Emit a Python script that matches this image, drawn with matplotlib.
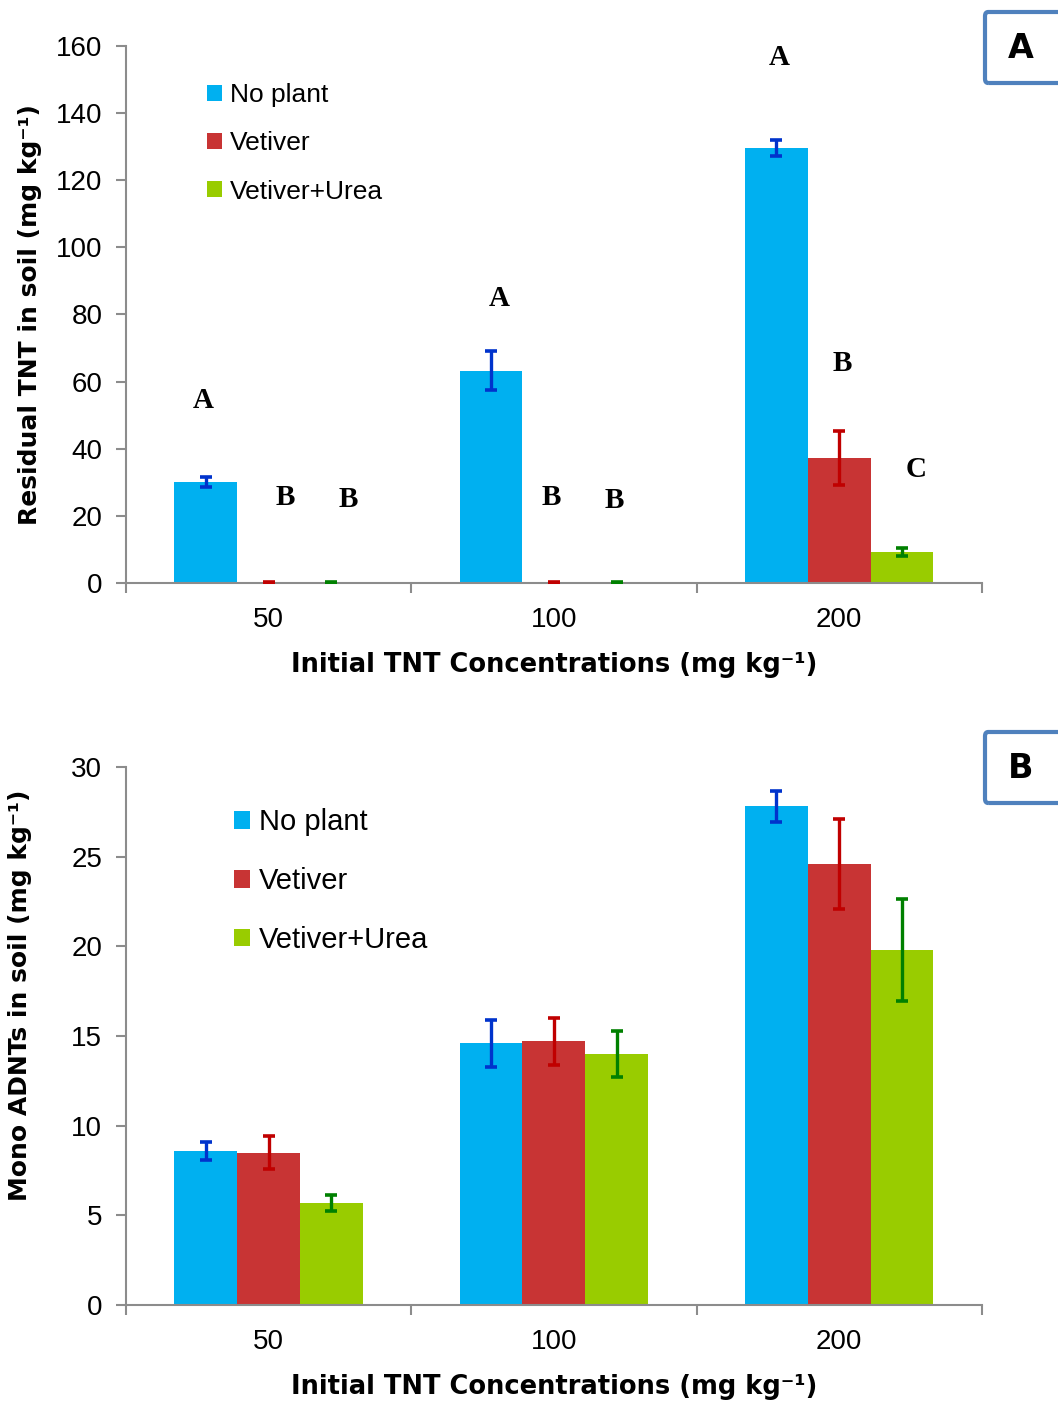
import matplotlib.pyplot as plt
import numpy as np
from matplotlib.patches import FancyBboxPatch

plt.rcParams['font.family'] = ['Liberation Sans', 'DejaVu Sans']

# Data
concentrations = ['50', '100', '200']
series = ['No plant', 'Vetiver', 'Vetiver+Urea']

tnt_mean = [[30.1, 63.2, 129.6],
            [0.0, 0.0, 37.2],
            [0.0, 0.0, 9.2]]
tnt_err = [[1.5, 5.8, 2.4],
           [0.3, 0.3, 8.0],
           [0.3, 0.3, 1.2]]

adnt_mean = [[8.6, 14.6, 27.8],
             [8.5, 14.7, 24.6],
             [5.7, 14.0, 19.8]]
adnt_err = [[0.5, 1.3, 0.85],
            [0.9, 1.3, 2.5],
            [0.45, 1.3, 2.85]]

# significance letters above the TNT bars
tnt_letters = ['A', 'B', 'B', 'A', 'B', 'B', 'A', 'B', 'C']
tnt_letter_grp = [0, 0, 0, 1, 1, 1, 2, 2, 2]
tnt_letter_x = [-0.23, 0.06, 0.28, -0.19, -0.01, 0.21, -0.21, 0.01, 0.27]
tnt_letter_y = [54.5, 25.6, 25.0, 84.9, 25.6, 24.7, 156.7, 65.3, 33.7]

bar_colors = ['#00B0F0', '#C83434', '#99CC00']
err_colors = ['#0033CC', '#C00000', '#008000']
axis_gray = '#8C8C8C'
heavy = ['DejaVu Sans']

fig = plt.figure(figsize=(10.58, 14.01), dpi=100)
ax_a = fig.add_axes([0.119, 0.5839, 0.809, 0.3833])
ax_b = fig.add_axes([0.119, 0.0685, 0.809, 0.3840])

x = np.arange(len(concentrations))
width = 0.22


def draw_panel(ax, means, errs, ymax, ystep, ylabel, leg_loc, leg_size, leg_space):
    for i, name in enumerate(series):
        pos = x + (i - 1) * width
        ax.bar(pos, means[i], width, color=bar_colors[i], label=name, zorder=2)
        ax.errorbar(pos, means[i], yerr=errs[i],
                    fmt='none', ecolor=err_colors[i], elinewidth=2.4,
                    capsize=4.5, capthick=2.6, zorder=3)
    ax.set_xlim(-0.5, 2.5)
    ax.set_ylim(0, ymax)
    ax.set_yticks(np.arange(0, ymax + 1, ystep))
    ax.set_xticks(x)
    ax.set_xticklabels(concentrations)
    ax.set_xticks([-0.5, 0.5, 1.5, 2.5], minor=True)
    ax.tick_params(axis='x', which='major', length=0, labelsize=20, pad=17)
    ax.tick_params(axis='x', which='minor', length=7, width=1.5, color=axis_gray,
                   direction='out')
    ax.tick_params(axis='y', length=7, width=1.5, color=axis_gray, labelsize=20,
                   direction='out', pad=10)
    for s in ['top', 'right']:
        ax.spines[s].set_visible(False)
    for s in ['left', 'bottom']:
        ax.spines[s].set_color(axis_gray)
        ax.spines[s].set_linewidth(1.5)
    ax.set_ylabel(ylabel, fontsize=18, fontweight='bold', family=heavy, labelpad=10)
    ax.set_xlabel('Initial TNT Concentrations (mg kg\u207b\u00b9)',
                  fontsize=18.5, fontweight='bold', family=heavy, labelpad=14)
    ax.legend(loc='upper left', bbox_to_anchor=leg_loc, frameon=False,
              fontsize=leg_size, handlelength=0.55, handleheight=0.55,
              handletextpad=0.3, labelspacing=leg_space, borderaxespad=0,
              borderpad=0)


draw_panel(ax_a, tnt_mean, tnt_err, 160, 20,
           'Residual TNT in soil (mg kg\u207b\u00b9)', (0.095, 0.931), 19, 0.92)
draw_panel(ax_b, adnt_mean, adnt_err, 30, 5,
           'Mono ADNTs in soil (mg kg\u207b\u00b9)', (0.126, 0.923), 21, 1.05)
ax_b.yaxis.set_label_coords(-0.110, 0.576)

for g, dx, yv, t in zip(tnt_letter_grp, tnt_letter_x, tnt_letter_y, tnt_letters):
    ax_a.text(x[g] + dx, yv, t, ha='center', va='center', fontsize=21,
              fontweight='bold', family='Liberation Serif')

# panel tags
for y0, tag in [(1 - 83 / 1401, 'A'), (1 - 803 / 1401, 'B')]:
    fig.patches.append(FancyBboxPatch((985 / 1058, y0), 0.2, 71 / 1401,
                                      boxstyle='round,pad=0,rounding_size=0.003',
                                      transform=fig.transFigure, fill=False,
                                      edgecolor='#4F81BD', linewidth=3,
                                      clip_on=False))
    fig.text(1021 / 1058, y0 + 35 / 1401, tag, ha='center', va='center',
             fontsize=24, fontweight='bold', family=heavy)

plt.savefig('out.png', dpi=100)
